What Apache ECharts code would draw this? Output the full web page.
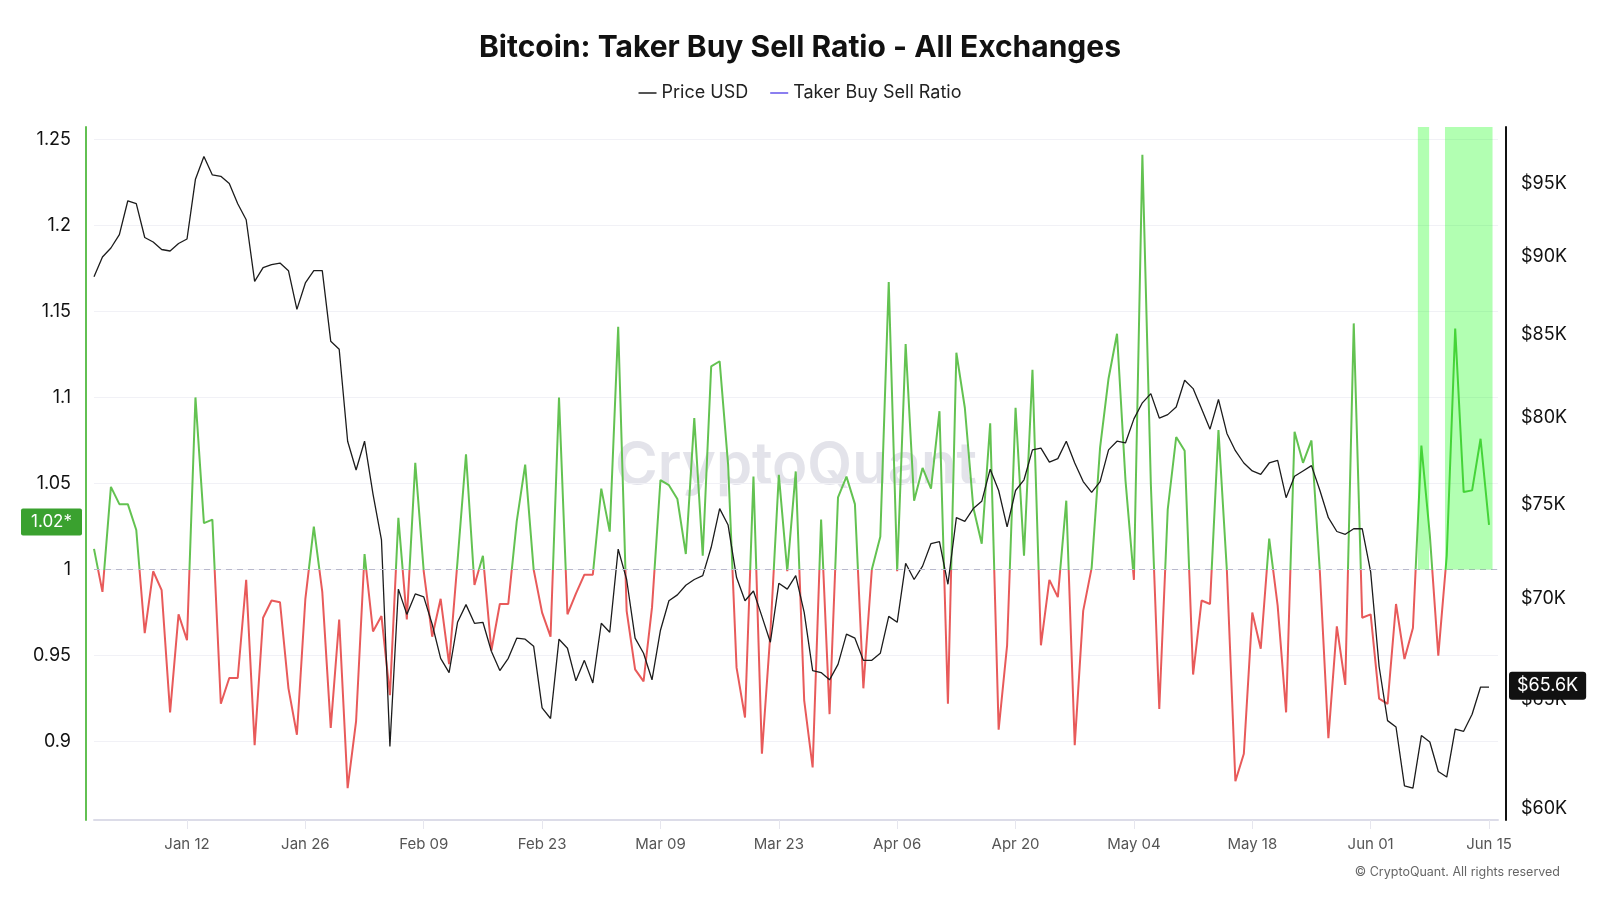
<!DOCTYPE html>
<html>
<head>
<meta charset="utf-8">
<title>Bitcoin: Taker Buy Sell Ratio - All Exchanges</title>
<script src="https://cdn.jsdelivr.net/npm/echarts@6.0.0/dist/echarts.min.js"></script>
<style>
  html, body { margin: 0; padding: 0; background: #fff; }
  #chart { width: 1600px; height: 900px; }
</style>
</head>
<body>
<div id="chart"></div>
<script>
// daily values, 2026-01-01 .. 2026-06-15
const startDay = '2026-01-01';

const takerRatio = [
  1.012, 0.987, 1.048, 1.038, 1.038, 1.023, 0.963, 0.999, 0.988, 0.917,
  0.974, 0.959, 1.100, 1.027, 1.029, 0.922, 0.937, 0.937, 0.994, 0.898,
  0.972, 0.982, 0.981, 0.931, 0.904, 0.983, 1.025, 0.987, 0.908, 0.971,
  0.873, 0.912, 1.009, 0.964, 0.973, 0.927, 1.030, 0.971, 1.062, 0.999,
  0.961, 0.983, 0.945, 1.005, 1.067, 0.991, 1.008, 0.953, 0.980, 0.980,
  1.028, 1.061, 1.000, 0.975, 0.961, 1.100, 0.974, 0.986, 0.997, 0.997,
  1.047, 1.022, 1.141, 0.976, 0.942, 0.935, 0.978, 1.052, 1.049, 1.041,
  1.009, 1.088, 1.008, 1.118, 1.121, 1.061, 0.943, 0.914, 1.054, 0.893,
  0.963, 1.055, 0.999, 1.057, 0.924, 0.885, 1.029, 0.916, 1.042, 1.054,
  1.038, 0.931, 1.000, 1.019, 1.167, 0.999, 1.131, 1.040, 1.059, 1.047,
  1.092, 0.922, 1.126, 1.094, 1.036, 1.015, 1.085, 0.907, 0.956, 1.094,
  1.008, 1.116, 0.956, 0.994, 0.984, 1.040, 0.898, 0.976, 1.001, 1.071,
  1.111, 1.137, 1.052, 0.994, 1.241, 1.050, 0.919, 1.035, 1.077, 1.069,
  0.939, 0.982, 0.980, 1.081, 0.999, 0.877, 0.893, 0.975, 0.954, 1.018,
  0.979, 0.917, 1.080, 1.062, 1.075, 0.998, 0.902, 0.967, 0.933, 1.143,
  0.972, 0.974, 0.925, 0.922, 0.980, 0.948, 0.966, 1.072, 1.020, 0.950,
  1.008, 1.140, 1.045, 1.046, 1.076, 1.026
];

// BTC price, thousands of USD
const priceK = [
  88.7, 90.0, 90.6, 91.5, 93.8, 93.6, 91.3, 91.0, 90.5, 90.4,
  90.9, 91.2, 95.3, 96.9, 95.6, 95.5, 95.0, 93.6, 92.5, 88.4,
  89.3, 89.5, 89.6, 89.1, 86.6, 88.3, 89.1, 89.1, 84.6, 84.1,
  78.6, 76.95, 78.6, 75.6, 73.1, 62.8, 70.5, 69.2, 70.25, 70.1,
  68.7, 67.0, 66.3, 68.8, 69.7, 68.75, 68.8, 67.35, 66.4, 67.0,
  68.0, 67.95, 67.6, 64.6, 64.1, 67.95, 67.5, 65.9, 66.9, 65.8,
  68.75, 68.3, 72.6, 71.0, 68.0, 67.25, 65.95, 68.4, 69.9, 70.2,
  70.7, 71.0, 71.2, 72.7, 74.8, 73.9, 71.1, 69.9, 70.4, 69.1,
  67.8, 70.8, 70.5, 71.2, 69.3, 66.4, 66.3, 65.95, 66.7, 68.2,
  68.0, 66.9, 66.9, 67.25, 69.1, 68.8, 71.85, 71.0, 71.7, 72.9,
  73.0, 70.75, 74.3, 74.1, 74.8, 75.2, 77.0, 75.8, 73.8, 75.8,
  76.4, 78.1, 78.2, 77.4, 77.6, 78.6, 77.35, 76.3, 75.7, 76.3,
  78.1, 78.6, 78.5, 79.9, 80.85, 81.4, 79.95, 80.15, 80.6, 82.2,
  81.7, 80.5, 79.3, 81.05, 79.05, 78.05, 77.35, 76.9, 76.7, 77.35,
  77.5, 75.4, 76.6, 76.9, 77.2, 75.8, 74.3, 73.55, 73.4, 73.7,
  73.7, 71.4, 66.6, 64.0, 63.7, 61.0, 60.9, 63.3, 63.0, 61.65,
  61.4, 63.6, 63.5, 64.3, 65.6, 65.6
];

const xTickDates = ['2026-01-12', '2026-01-26', '2026-02-09', '2026-02-23', '2026-03-09', '2026-03-23',
  '2026-04-06', '2026-04-20', '2026-05-04', '2026-05-18', '2026-06-01', '2026-06-15'];
const priceTicksK = [60, 65, 70, 75, 80, 85, 90, 95];
const greenBands = [
  ['2026-06-06T14:00', '2026-06-07T22:00'],
  ['2026-06-09T19:00', '2026-06-15T10:00']
];
const xAxisEnd = '2026-06-16T01:30';
const ratioAxis = [0.8545, 1.2571];
const priceAxisK = [59.49, 99.03];
const monthNames = ['Jan', 'Feb', 'Mar', 'Apr', 'May', 'Jun', 'Jul', 'Aug', 'Sep', 'Oct', 'Nov', 'Dec'];

const DAY = 86400000;
const toTime = s => new Date(s + (s.length === 10 ? 'T00:00:00Z' : ':00Z')).getTime();
const t0 = toTime(startDay);
const days = takerRatio.map((_, i) => t0 + i * DAY);
const ratioData = days.map((t, i) => [t, takerRatio[i]]);
// price axis is logarithmic: plot ln(price) on the right axis
const priceData = days.map((t, i) => [t, Math.log(priceK[i] * 1000)]);
const lastRatio = takerRatio[takerRatio.length - 1];
const lastPrice = priceK[priceK.length - 1];

const pad2 = n => (n < 10 ? '0' : '') + n;
const fmtDay = v => { const d = new Date(v); return monthNames[d.getUTCMonth()] + ' ' + pad2(d.getUTCDate()); };
const font = 'Inter, "Noto Sans", sans-serif';
const hiddenLine = { color: 'rgba(0,0,0,0)', width: 0 };

const myChart = echarts.init(document.getElementById('chart'));
myChart.setOption({
  backgroundColor: '#fff',
  animation: false,
  textStyle: { fontFamily: font },
  title: {
    text: 'Bitcoin: Taker Buy Sell Ratio - All Exchanges',
    left: 'center',
    top: 28,
    textStyle: { fontSize: 30, fontWeight: 700, color: '#111', fontFamily: font }
  },
  legend: {
    top: 79,
    left: 'center',
    icon: 'rect',
    itemWidth: 18,
    itemHeight: 2,
    itemGap: 22,
    textStyle: { fontSize: 18, color: '#222', fontFamily: font },
    data: [
      { name: 'Price USD', itemStyle: { color: '#555' } },
      { name: 'Taker Buy Sell Ratio', itemStyle: { color: '#8b7ff0' } }
    ]
  },
  grid: { left: 94, right: 102, top: 127, bottom: 80 },
  visualMap: {
    show: false,
    type: 'piecewise',
    seriesIndex: 1,
    dimension: 1,
    pieces: [
      { gt: 0, lte: 1, color: '#e85a5a' },
      { gt: 1, lte: 10, color: '#63c251' }
    ]
  },
  xAxis: {
    type: 'value',
    min: t0,
    max: toTime(xAxisEnd),
    axisLine: { lineStyle: { color: '#dcdce8', width: 2 } },
    axisTick: { show: true, length: 9, customValues: xTickDates.map(toTime), lineStyle: { color: '#e6e6ee' } },
    axisLabel: { customValues: xTickDates.map(toTime), formatter: fmtDay, color: '#555', fontSize: 15, margin: 17 },
    splitLine: { show: false }
  },
  yAxis: [
    {
      type: 'value',
      position: 'left',
      offset: 8,
      min: ratioAxis[0],
      max: ratioAxis[1],
      splitNumber: 8,
      axisLine: { show: true, lineStyle: { color: '#62c052', width: 2 } },
      axisTick: { show: false },
      axisLabel: { color: '#111', fontSize: 18, margin: 15, showMinLabel: false, showMaxLabel: false },
      splitLine: { lineStyle: { color: '#f1f1f6' }, showMinLine: false, showMaxLine: false }
    },
    {
      type: 'value',
      position: 'right',
      offset: 8,
      min: Math.log(priceAxisK[0] * 1000),
      max: Math.log(priceAxisK[1] * 1000),
      axisLine: { show: true, lineStyle: { color: '#111', width: 2 } },
      axisTick: { show: false },
      splitLine: { show: false },
      axisLabel: {
        customValues: priceTicksK.map(k => Math.log(k * 1000)),
        formatter: v => '$' + Math.round(Math.exp(v) / 1000) + 'K',
        color: '#111',
        fontSize: 18,
        margin: 15
      }
    }
  ],
  graphic: [
    {
      type: 'text',
      x: 796,
      y: 467,
      z: 0,
      silent: true,
      style: { text: 'CryptoQuant', fontSize: 58, fontWeight: 600, fontFamily: font, fill: 'rgba(200,200,214,0.5)', align: 'center', verticalAlign: 'middle' }
    },
    {
      type: 'text',
      right: 40,
      bottom: 21,
      silent: true,
      style: { text: '\u00a9 CryptoQuant. All rights reserved', fontSize: 12.5, fontFamily: font, fill: '#666' }
    }
  ],
  series: [
    {
      name: 'Price USD',
      type: 'line',
      yAxisIndex: 1,
      z: 4,
      showSymbol: false,
      color: '#555',
      lineStyle: { color: '#1c1c1c', width: 1.3 },
      data: priceData,
      markLine: {
        silent: true,
        symbol: 'none',
        data: [{
          yAxis: Math.log(lastPrice * 1000),
          lineStyle: hiddenLine,
          label: {
            show: true,
            position: 'end',
            distance: 11,
            offset: [0, -3],
            formatter: '$' + lastPrice.toFixed(1) + 'K',
            color: '#fff',
            backgroundColor: '#111',
            borderRadius: 3,
            padding: [5, 8],
            fontSize: 18,
            fontFamily: font
          }
        }]
      }
    },
    {
      name: 'Taker Buy Sell Ratio',
      type: 'line',
      yAxisIndex: 0,
      z: 3,
      showSymbol: false,
      color: '#8b7ff0',
      lineStyle: { width: 2 },
      data: ratioData,
      markLine: {
        silent: true,
        symbol: 'none',
        data: [
          {
            yAxis: 1,
            lineStyle: { color: '#b9b9cc', type: [6, 5], width: 1.2 },
            label: { show: false }
          },
          {
            yAxis: lastRatio,
            lineStyle: hiddenLine,
            label: {
              show: true,
              position: 'start',
              distance: 12,
              offset: [0, 4],
              formatter: (Math.floor(lastRatio * 100) / 100).toFixed(2) + '*',
              color: '#fff',
              backgroundColor: '#3aa12f',
              borderRadius: 2,
              padding: [5, 10],
              fontSize: 17,
              fontFamily: font
            }
          }
        ]
      },
      markArea: {
        silent: true,
        z: 6,
        itemStyle: { color: 'rgba(0,255,0,0.3)' },
        data: greenBands.map(b => [{ xAxis: toTime(b[0]), yAxis: 1 }, { xAxis: toTime(b[1]), yAxis: ratioAxis[1] }])
      }
    }
  ]
});
window.onresize = function () {
  myChart.resize();
};
</script>
</body>
</html>
